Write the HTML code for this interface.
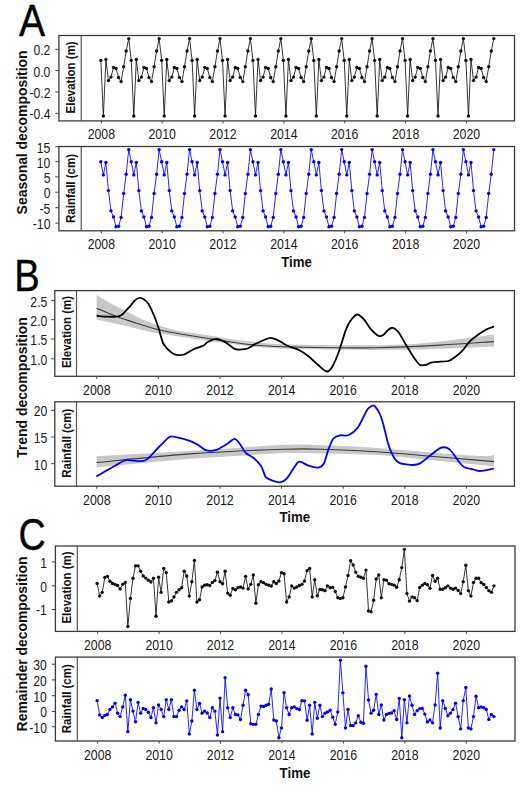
<!DOCTYPE html>
<html><head><meta charset="utf-8"><style>
html,body{margin:0;padding:0;background:#fff;}
body{width:526px;height:791px;overflow:hidden;}
svg{display:block;}
</style></head><body>
<svg width="526" height="791" viewBox="0 0 526 791" font-family='"Liberation Sans", sans-serif'>
<rect width="526" height="791" fill="#fff"/>
<text x="19" y="36" font-size="43.5" fill="#000" stroke="#000" stroke-width="0.35" transform="translate(19,0) scale(0.9,1) translate(-19,0)">A</text>
<text x="14.3" y="291" font-size="44.5" fill="#000" stroke="#000" stroke-width="0.3" transform="translate(14.3,0) scale(0.86,1) translate(-14.3,0)">B</text>
<text x="18.6" y="550" font-size="44.5" fill="#000" stroke="#000" stroke-width="0.35" transform="translate(18.6,0) scale(0.85,1) translate(-18.6,0)">C</text>
<rect x="58.9" y="35.5" width="455.6" height="85.4" fill="none" stroke="#3a3a3a" stroke-width="1.3"/>
<line x1="81.2" y1="35.5" x2="81.2" y2="120.9" stroke="#555" stroke-width="1.2"/>
<line x1="55.3" y1="49.3" x2="58.9" y2="49.3" stroke="#444" stroke-width="1"/>
<text transform="translate(50.4,55.2) scale(0.87,1)" text-anchor="end" font-size="14" fill="#1a1a1a">0.2</text>
<line x1="55.3" y1="70.6" x2="58.9" y2="70.6" stroke="#444" stroke-width="1"/>
<text transform="translate(50.4,76.5) scale(0.87,1)" text-anchor="end" font-size="14" fill="#1a1a1a">0.0</text>
<line x1="55.3" y1="92" x2="58.9" y2="92" stroke="#444" stroke-width="1"/>
<text transform="translate(50.4,97.9) scale(0.87,1)" text-anchor="end" font-size="14" fill="#1a1a1a">-0.2</text>
<line x1="55.3" y1="113.3" x2="58.9" y2="113.3" stroke="#444" stroke-width="1"/>
<text transform="translate(50.4,119.2) scale(0.87,1)" text-anchor="end" font-size="14" fill="#1a1a1a">-0.4</text>
<text transform="translate(74.7,77.4) rotate(-90) scale(0.885,1)" text-anchor="middle" font-size="13" font-weight="bold" fill="#111">Elevation (m)</text>
<line x1="101.33" y1="120.9" x2="101.33" y2="123.4" stroke="#444" stroke-width="1"/>
<text transform="translate(101.33,139.4) scale(0.88,1)" text-anchor="middle" font-size="14" fill="#1a1a1a">2008</text>
<line x1="162.18" y1="120.9" x2="162.18" y2="123.4" stroke="#444" stroke-width="1"/>
<text transform="translate(162.18,139.4) scale(0.88,1)" text-anchor="middle" font-size="14" fill="#1a1a1a">2010</text>
<line x1="223.03" y1="120.9" x2="223.03" y2="123.4" stroke="#444" stroke-width="1"/>
<text transform="translate(223.03,139.4) scale(0.88,1)" text-anchor="middle" font-size="14" fill="#1a1a1a">2012</text>
<line x1="283.87" y1="120.9" x2="283.87" y2="123.4" stroke="#444" stroke-width="1"/>
<text transform="translate(283.87,139.4) scale(0.88,1)" text-anchor="middle" font-size="14" fill="#1a1a1a">2014</text>
<line x1="344.72" y1="120.9" x2="344.72" y2="123.4" stroke="#444" stroke-width="1"/>
<text transform="translate(344.72,139.4) scale(0.88,1)" text-anchor="middle" font-size="14" fill="#1a1a1a">2016</text>
<line x1="405.57" y1="120.9" x2="405.57" y2="123.4" stroke="#444" stroke-width="1"/>
<text transform="translate(405.57,139.4) scale(0.88,1)" text-anchor="middle" font-size="14" fill="#1a1a1a">2018</text>
<line x1="466.42" y1="120.9" x2="466.42" y2="123.4" stroke="#444" stroke-width="1"/>
<text transform="translate(466.42,139.4) scale(0.88,1)" text-anchor="middle" font-size="14" fill="#1a1a1a">2020</text>
<polyline points="100.83,60.4 103.37,116 105.9,59.5 108.44,80.6 110.97,77.1 113.51,67.5 116.04,68.5 118.58,77.5 121.11,81.6 123.65,66.8 126.18,51 128.72,38.6 131.25,60.4 133.79,116 136.32,59.5 138.86,80.6 141.4,77.1 143.93,67.5 146.47,68.5 149,77.5 151.54,81.6 154.07,66.8 156.61,51 159.14,38.6 161.68,60.4 164.21,116 166.75,59.5 169.28,80.6 171.82,77.1 174.35,67.5 176.89,68.5 179.43,77.5 181.96,81.6 184.5,66.8 187.03,51 189.57,38.6 192.1,60.4 194.64,116 197.17,59.5 199.71,80.6 202.24,77.1 204.78,67.5 207.31,68.5 209.85,77.5 212.38,81.6 214.92,66.8 217.46,51 219.99,38.6 222.53,60.4 225.06,116 227.6,59.5 230.13,80.6 232.67,77.1 235.2,67.5 237.74,68.5 240.27,77.5 242.81,81.6 245.34,66.8 247.88,51 250.41,38.6 252.95,60.4 255.49,116 258.02,59.5 260.56,80.6 263.09,77.1 265.63,67.5 268.16,68.5 270.7,77.5 273.23,81.6 275.77,66.8 278.3,51 280.84,38.6 283.37,60.4 285.91,116 288.44,59.5 290.98,80.6 293.52,77.1 296.05,67.5 298.59,68.5 301.12,77.5 303.66,81.6 306.19,66.8 308.73,51 311.26,38.6 313.8,60.4 316.33,116 318.87,59.5 321.4,80.6 323.94,77.1 326.47,67.5 329.01,68.5 331.55,77.5 334.08,81.6 336.62,66.8 339.15,51 341.69,38.6 344.22,60.4 346.76,116 349.29,59.5 351.83,80.6 354.36,77.1 356.9,67.5 359.43,68.5 361.97,77.5 364.5,81.6 367.04,66.8 369.58,51 372.11,38.6 374.65,60.4 377.18,116 379.72,59.5 382.25,80.6 384.79,77.1 387.32,67.5 389.86,68.5 392.39,77.5 394.93,81.6 397.46,66.8 400,51 402.53,38.6 405.07,60.4 407.61,116 410.14,59.5 412.68,80.6 415.21,77.1 417.75,67.5 420.28,68.5 422.82,77.5 425.35,81.6 427.89,66.8 430.42,51 432.96,38.6 435.49,60.4 438.03,116 440.56,59.5 443.1,80.6 445.64,77.1 448.17,67.5 450.71,68.5 453.24,77.5 455.78,81.6 458.31,66.8 460.85,51 463.38,38.6 465.92,60.4 468.45,116 470.99,59.5 473.52,80.6 476.06,77.1 478.59,67.5 481.13,68.5 483.67,77.5 486.2,81.6 488.74,66.8 491.27,51 493.81,38.6" fill="none" stroke="#111" stroke-width="0.85" stroke-linejoin="round"/>
<circle cx="100.83" cy="60.4" r="1.7" fill="#111"/>
<circle cx="103.37" cy="116" r="1.7" fill="#111"/>
<circle cx="105.9" cy="59.5" r="1.7" fill="#111"/>
<circle cx="108.44" cy="80.6" r="1.7" fill="#111"/>
<circle cx="110.97" cy="77.1" r="1.7" fill="#111"/>
<circle cx="113.51" cy="67.5" r="1.7" fill="#111"/>
<circle cx="116.04" cy="68.5" r="1.7" fill="#111"/>
<circle cx="118.58" cy="77.5" r="1.7" fill="#111"/>
<circle cx="121.11" cy="81.6" r="1.7" fill="#111"/>
<circle cx="123.65" cy="66.8" r="1.7" fill="#111"/>
<circle cx="126.18" cy="51" r="1.7" fill="#111"/>
<circle cx="128.72" cy="38.6" r="1.7" fill="#111"/>
<circle cx="131.25" cy="60.4" r="1.7" fill="#111"/>
<circle cx="133.79" cy="116" r="1.7" fill="#111"/>
<circle cx="136.32" cy="59.5" r="1.7" fill="#111"/>
<circle cx="138.86" cy="80.6" r="1.7" fill="#111"/>
<circle cx="141.4" cy="77.1" r="1.7" fill="#111"/>
<circle cx="143.93" cy="67.5" r="1.7" fill="#111"/>
<circle cx="146.47" cy="68.5" r="1.7" fill="#111"/>
<circle cx="149" cy="77.5" r="1.7" fill="#111"/>
<circle cx="151.54" cy="81.6" r="1.7" fill="#111"/>
<circle cx="154.07" cy="66.8" r="1.7" fill="#111"/>
<circle cx="156.61" cy="51" r="1.7" fill="#111"/>
<circle cx="159.14" cy="38.6" r="1.7" fill="#111"/>
<circle cx="161.68" cy="60.4" r="1.7" fill="#111"/>
<circle cx="164.21" cy="116" r="1.7" fill="#111"/>
<circle cx="166.75" cy="59.5" r="1.7" fill="#111"/>
<circle cx="169.28" cy="80.6" r="1.7" fill="#111"/>
<circle cx="171.82" cy="77.1" r="1.7" fill="#111"/>
<circle cx="174.35" cy="67.5" r="1.7" fill="#111"/>
<circle cx="176.89" cy="68.5" r="1.7" fill="#111"/>
<circle cx="179.43" cy="77.5" r="1.7" fill="#111"/>
<circle cx="181.96" cy="81.6" r="1.7" fill="#111"/>
<circle cx="184.5" cy="66.8" r="1.7" fill="#111"/>
<circle cx="187.03" cy="51" r="1.7" fill="#111"/>
<circle cx="189.57" cy="38.6" r="1.7" fill="#111"/>
<circle cx="192.1" cy="60.4" r="1.7" fill="#111"/>
<circle cx="194.64" cy="116" r="1.7" fill="#111"/>
<circle cx="197.17" cy="59.5" r="1.7" fill="#111"/>
<circle cx="199.71" cy="80.6" r="1.7" fill="#111"/>
<circle cx="202.24" cy="77.1" r="1.7" fill="#111"/>
<circle cx="204.78" cy="67.5" r="1.7" fill="#111"/>
<circle cx="207.31" cy="68.5" r="1.7" fill="#111"/>
<circle cx="209.85" cy="77.5" r="1.7" fill="#111"/>
<circle cx="212.38" cy="81.6" r="1.7" fill="#111"/>
<circle cx="214.92" cy="66.8" r="1.7" fill="#111"/>
<circle cx="217.46" cy="51" r="1.7" fill="#111"/>
<circle cx="219.99" cy="38.6" r="1.7" fill="#111"/>
<circle cx="222.53" cy="60.4" r="1.7" fill="#111"/>
<circle cx="225.06" cy="116" r="1.7" fill="#111"/>
<circle cx="227.6" cy="59.5" r="1.7" fill="#111"/>
<circle cx="230.13" cy="80.6" r="1.7" fill="#111"/>
<circle cx="232.67" cy="77.1" r="1.7" fill="#111"/>
<circle cx="235.2" cy="67.5" r="1.7" fill="#111"/>
<circle cx="237.74" cy="68.5" r="1.7" fill="#111"/>
<circle cx="240.27" cy="77.5" r="1.7" fill="#111"/>
<circle cx="242.81" cy="81.6" r="1.7" fill="#111"/>
<circle cx="245.34" cy="66.8" r="1.7" fill="#111"/>
<circle cx="247.88" cy="51" r="1.7" fill="#111"/>
<circle cx="250.41" cy="38.6" r="1.7" fill="#111"/>
<circle cx="252.95" cy="60.4" r="1.7" fill="#111"/>
<circle cx="255.49" cy="116" r="1.7" fill="#111"/>
<circle cx="258.02" cy="59.5" r="1.7" fill="#111"/>
<circle cx="260.56" cy="80.6" r="1.7" fill="#111"/>
<circle cx="263.09" cy="77.1" r="1.7" fill="#111"/>
<circle cx="265.63" cy="67.5" r="1.7" fill="#111"/>
<circle cx="268.16" cy="68.5" r="1.7" fill="#111"/>
<circle cx="270.7" cy="77.5" r="1.7" fill="#111"/>
<circle cx="273.23" cy="81.6" r="1.7" fill="#111"/>
<circle cx="275.77" cy="66.8" r="1.7" fill="#111"/>
<circle cx="278.3" cy="51" r="1.7" fill="#111"/>
<circle cx="280.84" cy="38.6" r="1.7" fill="#111"/>
<circle cx="283.37" cy="60.4" r="1.7" fill="#111"/>
<circle cx="285.91" cy="116" r="1.7" fill="#111"/>
<circle cx="288.44" cy="59.5" r="1.7" fill="#111"/>
<circle cx="290.98" cy="80.6" r="1.7" fill="#111"/>
<circle cx="293.52" cy="77.1" r="1.7" fill="#111"/>
<circle cx="296.05" cy="67.5" r="1.7" fill="#111"/>
<circle cx="298.59" cy="68.5" r="1.7" fill="#111"/>
<circle cx="301.12" cy="77.5" r="1.7" fill="#111"/>
<circle cx="303.66" cy="81.6" r="1.7" fill="#111"/>
<circle cx="306.19" cy="66.8" r="1.7" fill="#111"/>
<circle cx="308.73" cy="51" r="1.7" fill="#111"/>
<circle cx="311.26" cy="38.6" r="1.7" fill="#111"/>
<circle cx="313.8" cy="60.4" r="1.7" fill="#111"/>
<circle cx="316.33" cy="116" r="1.7" fill="#111"/>
<circle cx="318.87" cy="59.5" r="1.7" fill="#111"/>
<circle cx="321.4" cy="80.6" r="1.7" fill="#111"/>
<circle cx="323.94" cy="77.1" r="1.7" fill="#111"/>
<circle cx="326.47" cy="67.5" r="1.7" fill="#111"/>
<circle cx="329.01" cy="68.5" r="1.7" fill="#111"/>
<circle cx="331.55" cy="77.5" r="1.7" fill="#111"/>
<circle cx="334.08" cy="81.6" r="1.7" fill="#111"/>
<circle cx="336.62" cy="66.8" r="1.7" fill="#111"/>
<circle cx="339.15" cy="51" r="1.7" fill="#111"/>
<circle cx="341.69" cy="38.6" r="1.7" fill="#111"/>
<circle cx="344.22" cy="60.4" r="1.7" fill="#111"/>
<circle cx="346.76" cy="116" r="1.7" fill="#111"/>
<circle cx="349.29" cy="59.5" r="1.7" fill="#111"/>
<circle cx="351.83" cy="80.6" r="1.7" fill="#111"/>
<circle cx="354.36" cy="77.1" r="1.7" fill="#111"/>
<circle cx="356.9" cy="67.5" r="1.7" fill="#111"/>
<circle cx="359.43" cy="68.5" r="1.7" fill="#111"/>
<circle cx="361.97" cy="77.5" r="1.7" fill="#111"/>
<circle cx="364.5" cy="81.6" r="1.7" fill="#111"/>
<circle cx="367.04" cy="66.8" r="1.7" fill="#111"/>
<circle cx="369.58" cy="51" r="1.7" fill="#111"/>
<circle cx="372.11" cy="38.6" r="1.7" fill="#111"/>
<circle cx="374.65" cy="60.4" r="1.7" fill="#111"/>
<circle cx="377.18" cy="116" r="1.7" fill="#111"/>
<circle cx="379.72" cy="59.5" r="1.7" fill="#111"/>
<circle cx="382.25" cy="80.6" r="1.7" fill="#111"/>
<circle cx="384.79" cy="77.1" r="1.7" fill="#111"/>
<circle cx="387.32" cy="67.5" r="1.7" fill="#111"/>
<circle cx="389.86" cy="68.5" r="1.7" fill="#111"/>
<circle cx="392.39" cy="77.5" r="1.7" fill="#111"/>
<circle cx="394.93" cy="81.6" r="1.7" fill="#111"/>
<circle cx="397.46" cy="66.8" r="1.7" fill="#111"/>
<circle cx="400" cy="51" r="1.7" fill="#111"/>
<circle cx="402.53" cy="38.6" r="1.7" fill="#111"/>
<circle cx="405.07" cy="60.4" r="1.7" fill="#111"/>
<circle cx="407.61" cy="116" r="1.7" fill="#111"/>
<circle cx="410.14" cy="59.5" r="1.7" fill="#111"/>
<circle cx="412.68" cy="80.6" r="1.7" fill="#111"/>
<circle cx="415.21" cy="77.1" r="1.7" fill="#111"/>
<circle cx="417.75" cy="67.5" r="1.7" fill="#111"/>
<circle cx="420.28" cy="68.5" r="1.7" fill="#111"/>
<circle cx="422.82" cy="77.5" r="1.7" fill="#111"/>
<circle cx="425.35" cy="81.6" r="1.7" fill="#111"/>
<circle cx="427.89" cy="66.8" r="1.7" fill="#111"/>
<circle cx="430.42" cy="51" r="1.7" fill="#111"/>
<circle cx="432.96" cy="38.6" r="1.7" fill="#111"/>
<circle cx="435.49" cy="60.4" r="1.7" fill="#111"/>
<circle cx="438.03" cy="116" r="1.7" fill="#111"/>
<circle cx="440.56" cy="59.5" r="1.7" fill="#111"/>
<circle cx="443.1" cy="80.6" r="1.7" fill="#111"/>
<circle cx="445.64" cy="77.1" r="1.7" fill="#111"/>
<circle cx="448.17" cy="67.5" r="1.7" fill="#111"/>
<circle cx="450.71" cy="68.5" r="1.7" fill="#111"/>
<circle cx="453.24" cy="77.5" r="1.7" fill="#111"/>
<circle cx="455.78" cy="81.6" r="1.7" fill="#111"/>
<circle cx="458.31" cy="66.8" r="1.7" fill="#111"/>
<circle cx="460.85" cy="51" r="1.7" fill="#111"/>
<circle cx="463.38" cy="38.6" r="1.7" fill="#111"/>
<circle cx="465.92" cy="60.4" r="1.7" fill="#111"/>
<circle cx="468.45" cy="116" r="1.7" fill="#111"/>
<circle cx="470.99" cy="59.5" r="1.7" fill="#111"/>
<circle cx="473.52" cy="80.6" r="1.7" fill="#111"/>
<circle cx="476.06" cy="77.1" r="1.7" fill="#111"/>
<circle cx="478.59" cy="67.5" r="1.7" fill="#111"/>
<circle cx="481.13" cy="68.5" r="1.7" fill="#111"/>
<circle cx="483.67" cy="77.5" r="1.7" fill="#111"/>
<circle cx="486.2" cy="81.6" r="1.7" fill="#111"/>
<circle cx="488.74" cy="66.8" r="1.7" fill="#111"/>
<circle cx="491.27" cy="51" r="1.7" fill="#111"/>
<circle cx="493.81" cy="38.6" r="1.7" fill="#111"/>
<rect x="58.9" y="146.5" width="455.6" height="84.3" fill="none" stroke="#3a3a3a" stroke-width="1.3"/>
<line x1="81.2" y1="146.5" x2="81.2" y2="230.8" stroke="#555" stroke-width="1.2"/>
<line x1="55.3" y1="146.7" x2="58.9" y2="146.7" stroke="#444" stroke-width="1"/>
<text transform="translate(50.4,152.6) scale(0.87,1)" text-anchor="end" font-size="14" fill="#1a1a1a">15</text>
<line x1="55.3" y1="161.6" x2="58.9" y2="161.6" stroke="#444" stroke-width="1"/>
<text transform="translate(50.4,167.5) scale(0.87,1)" text-anchor="end" font-size="14" fill="#1a1a1a">10</text>
<line x1="55.3" y1="176.9" x2="58.9" y2="176.9" stroke="#444" stroke-width="1"/>
<text transform="translate(50.4,182.8) scale(0.87,1)" text-anchor="end" font-size="14" fill="#1a1a1a">5</text>
<line x1="55.3" y1="192.2" x2="58.9" y2="192.2" stroke="#444" stroke-width="1"/>
<text transform="translate(50.4,198.1) scale(0.87,1)" text-anchor="end" font-size="14" fill="#1a1a1a">0</text>
<line x1="55.3" y1="207.7" x2="58.9" y2="207.7" stroke="#444" stroke-width="1"/>
<text transform="translate(50.4,213.6) scale(0.87,1)" text-anchor="end" font-size="14" fill="#1a1a1a">-5</text>
<line x1="55.3" y1="223.2" x2="58.9" y2="223.2" stroke="#444" stroke-width="1"/>
<text transform="translate(50.4,229.1) scale(0.87,1)" text-anchor="end" font-size="14" fill="#1a1a1a">-10</text>
<text transform="translate(74.7,188.5) rotate(-90) scale(0.885,1)" text-anchor="middle" font-size="13" font-weight="bold" fill="#111">Rainfall (cm)</text>
<line x1="101.33" y1="230.8" x2="101.33" y2="233.3" stroke="#444" stroke-width="1"/>
<text transform="translate(101.33,249.3) scale(0.88,1)" text-anchor="middle" font-size="14" fill="#1a1a1a">2008</text>
<line x1="162.18" y1="230.8" x2="162.18" y2="233.3" stroke="#444" stroke-width="1"/>
<text transform="translate(162.18,249.3) scale(0.88,1)" text-anchor="middle" font-size="14" fill="#1a1a1a">2010</text>
<line x1="223.03" y1="230.8" x2="223.03" y2="233.3" stroke="#444" stroke-width="1"/>
<text transform="translate(223.03,249.3) scale(0.88,1)" text-anchor="middle" font-size="14" fill="#1a1a1a">2012</text>
<line x1="283.87" y1="230.8" x2="283.87" y2="233.3" stroke="#444" stroke-width="1"/>
<text transform="translate(283.87,249.3) scale(0.88,1)" text-anchor="middle" font-size="14" fill="#1a1a1a">2014</text>
<line x1="344.72" y1="230.8" x2="344.72" y2="233.3" stroke="#444" stroke-width="1"/>
<text transform="translate(344.72,249.3) scale(0.88,1)" text-anchor="middle" font-size="14" fill="#1a1a1a">2016</text>
<line x1="405.57" y1="230.8" x2="405.57" y2="233.3" stroke="#444" stroke-width="1"/>
<text transform="translate(405.57,249.3) scale(0.88,1)" text-anchor="middle" font-size="14" fill="#1a1a1a">2018</text>
<line x1="466.42" y1="230.8" x2="466.42" y2="233.3" stroke="#444" stroke-width="1"/>
<text transform="translate(466.42,249.3) scale(0.88,1)" text-anchor="middle" font-size="14" fill="#1a1a1a">2020</text>
<polyline points="100.83,161.8 103.37,174.9 105.9,162.5 108.44,190.6 110.97,210.9 113.51,217 116.04,226.7 118.58,226.3 121.11,217.4 123.65,193.5 126.18,174.2 128.72,149.6 131.25,161.8 133.79,174.9 136.32,162.5 138.86,190.6 141.4,210.9 143.93,217 146.47,226.7 149,226.3 151.54,217.4 154.07,193.5 156.61,174.2 159.14,149.6 161.68,161.8 164.21,174.9 166.75,162.5 169.28,190.6 171.82,210.9 174.35,217 176.89,226.7 179.43,226.3 181.96,217.4 184.5,193.5 187.03,174.2 189.57,149.6 192.1,161.8 194.64,174.9 197.17,162.5 199.71,190.6 202.24,210.9 204.78,217 207.31,226.7 209.85,226.3 212.38,217.4 214.92,193.5 217.46,174.2 219.99,149.6 222.53,161.8 225.06,174.9 227.6,162.5 230.13,190.6 232.67,210.9 235.2,217 237.74,226.7 240.27,226.3 242.81,217.4 245.34,193.5 247.88,174.2 250.41,149.6 252.95,161.8 255.49,174.9 258.02,162.5 260.56,190.6 263.09,210.9 265.63,217 268.16,226.7 270.7,226.3 273.23,217.4 275.77,193.5 278.3,174.2 280.84,149.6 283.37,161.8 285.91,174.9 288.44,162.5 290.98,190.6 293.52,210.9 296.05,217 298.59,226.7 301.12,226.3 303.66,217.4 306.19,193.5 308.73,174.2 311.26,149.6 313.8,161.8 316.33,174.9 318.87,162.5 321.4,190.6 323.94,210.9 326.47,217 329.01,226.7 331.55,226.3 334.08,217.4 336.62,193.5 339.15,174.2 341.69,149.6 344.22,161.8 346.76,174.9 349.29,162.5 351.83,190.6 354.36,210.9 356.9,217 359.43,226.7 361.97,226.3 364.5,217.4 367.04,193.5 369.58,174.2 372.11,149.6 374.65,161.8 377.18,174.9 379.72,162.5 382.25,190.6 384.79,210.9 387.32,217 389.86,226.7 392.39,226.3 394.93,217.4 397.46,193.5 400,174.2 402.53,149.6 405.07,161.8 407.61,174.9 410.14,162.5 412.68,190.6 415.21,210.9 417.75,217 420.28,226.7 422.82,226.3 425.35,217.4 427.89,193.5 430.42,174.2 432.96,149.6 435.49,161.8 438.03,174.9 440.56,162.5 443.1,190.6 445.64,210.9 448.17,217 450.71,226.7 453.24,226.3 455.78,217.4 458.31,193.5 460.85,174.2 463.38,149.6 465.92,161.8 468.45,174.9 470.99,162.5 473.52,190.6 476.06,210.9 478.59,217 481.13,226.7 483.67,226.3 486.2,217.4 488.74,193.5 491.27,174.2 493.81,149.6" fill="none" stroke="#0000ff" stroke-width="0.85" stroke-linejoin="round"/>
<circle cx="100.83" cy="161.8" r="1.7" fill="#0000ff"/>
<circle cx="103.37" cy="174.9" r="1.7" fill="#0000ff"/>
<circle cx="105.9" cy="162.5" r="1.7" fill="#0000ff"/>
<circle cx="108.44" cy="190.6" r="1.7" fill="#0000ff"/>
<circle cx="110.97" cy="210.9" r="1.7" fill="#0000ff"/>
<circle cx="113.51" cy="217" r="1.7" fill="#0000ff"/>
<circle cx="116.04" cy="226.7" r="1.7" fill="#0000ff"/>
<circle cx="118.58" cy="226.3" r="1.7" fill="#0000ff"/>
<circle cx="121.11" cy="217.4" r="1.7" fill="#0000ff"/>
<circle cx="123.65" cy="193.5" r="1.7" fill="#0000ff"/>
<circle cx="126.18" cy="174.2" r="1.7" fill="#0000ff"/>
<circle cx="128.72" cy="149.6" r="1.7" fill="#0000ff"/>
<circle cx="131.25" cy="161.8" r="1.7" fill="#0000ff"/>
<circle cx="133.79" cy="174.9" r="1.7" fill="#0000ff"/>
<circle cx="136.32" cy="162.5" r="1.7" fill="#0000ff"/>
<circle cx="138.86" cy="190.6" r="1.7" fill="#0000ff"/>
<circle cx="141.4" cy="210.9" r="1.7" fill="#0000ff"/>
<circle cx="143.93" cy="217" r="1.7" fill="#0000ff"/>
<circle cx="146.47" cy="226.7" r="1.7" fill="#0000ff"/>
<circle cx="149" cy="226.3" r="1.7" fill="#0000ff"/>
<circle cx="151.54" cy="217.4" r="1.7" fill="#0000ff"/>
<circle cx="154.07" cy="193.5" r="1.7" fill="#0000ff"/>
<circle cx="156.61" cy="174.2" r="1.7" fill="#0000ff"/>
<circle cx="159.14" cy="149.6" r="1.7" fill="#0000ff"/>
<circle cx="161.68" cy="161.8" r="1.7" fill="#0000ff"/>
<circle cx="164.21" cy="174.9" r="1.7" fill="#0000ff"/>
<circle cx="166.75" cy="162.5" r="1.7" fill="#0000ff"/>
<circle cx="169.28" cy="190.6" r="1.7" fill="#0000ff"/>
<circle cx="171.82" cy="210.9" r="1.7" fill="#0000ff"/>
<circle cx="174.35" cy="217" r="1.7" fill="#0000ff"/>
<circle cx="176.89" cy="226.7" r="1.7" fill="#0000ff"/>
<circle cx="179.43" cy="226.3" r="1.7" fill="#0000ff"/>
<circle cx="181.96" cy="217.4" r="1.7" fill="#0000ff"/>
<circle cx="184.5" cy="193.5" r="1.7" fill="#0000ff"/>
<circle cx="187.03" cy="174.2" r="1.7" fill="#0000ff"/>
<circle cx="189.57" cy="149.6" r="1.7" fill="#0000ff"/>
<circle cx="192.1" cy="161.8" r="1.7" fill="#0000ff"/>
<circle cx="194.64" cy="174.9" r="1.7" fill="#0000ff"/>
<circle cx="197.17" cy="162.5" r="1.7" fill="#0000ff"/>
<circle cx="199.71" cy="190.6" r="1.7" fill="#0000ff"/>
<circle cx="202.24" cy="210.9" r="1.7" fill="#0000ff"/>
<circle cx="204.78" cy="217" r="1.7" fill="#0000ff"/>
<circle cx="207.31" cy="226.7" r="1.7" fill="#0000ff"/>
<circle cx="209.85" cy="226.3" r="1.7" fill="#0000ff"/>
<circle cx="212.38" cy="217.4" r="1.7" fill="#0000ff"/>
<circle cx="214.92" cy="193.5" r="1.7" fill="#0000ff"/>
<circle cx="217.46" cy="174.2" r="1.7" fill="#0000ff"/>
<circle cx="219.99" cy="149.6" r="1.7" fill="#0000ff"/>
<circle cx="222.53" cy="161.8" r="1.7" fill="#0000ff"/>
<circle cx="225.06" cy="174.9" r="1.7" fill="#0000ff"/>
<circle cx="227.6" cy="162.5" r="1.7" fill="#0000ff"/>
<circle cx="230.13" cy="190.6" r="1.7" fill="#0000ff"/>
<circle cx="232.67" cy="210.9" r="1.7" fill="#0000ff"/>
<circle cx="235.2" cy="217" r="1.7" fill="#0000ff"/>
<circle cx="237.74" cy="226.7" r="1.7" fill="#0000ff"/>
<circle cx="240.27" cy="226.3" r="1.7" fill="#0000ff"/>
<circle cx="242.81" cy="217.4" r="1.7" fill="#0000ff"/>
<circle cx="245.34" cy="193.5" r="1.7" fill="#0000ff"/>
<circle cx="247.88" cy="174.2" r="1.7" fill="#0000ff"/>
<circle cx="250.41" cy="149.6" r="1.7" fill="#0000ff"/>
<circle cx="252.95" cy="161.8" r="1.7" fill="#0000ff"/>
<circle cx="255.49" cy="174.9" r="1.7" fill="#0000ff"/>
<circle cx="258.02" cy="162.5" r="1.7" fill="#0000ff"/>
<circle cx="260.56" cy="190.6" r="1.7" fill="#0000ff"/>
<circle cx="263.09" cy="210.9" r="1.7" fill="#0000ff"/>
<circle cx="265.63" cy="217" r="1.7" fill="#0000ff"/>
<circle cx="268.16" cy="226.7" r="1.7" fill="#0000ff"/>
<circle cx="270.7" cy="226.3" r="1.7" fill="#0000ff"/>
<circle cx="273.23" cy="217.4" r="1.7" fill="#0000ff"/>
<circle cx="275.77" cy="193.5" r="1.7" fill="#0000ff"/>
<circle cx="278.3" cy="174.2" r="1.7" fill="#0000ff"/>
<circle cx="280.84" cy="149.6" r="1.7" fill="#0000ff"/>
<circle cx="283.37" cy="161.8" r="1.7" fill="#0000ff"/>
<circle cx="285.91" cy="174.9" r="1.7" fill="#0000ff"/>
<circle cx="288.44" cy="162.5" r="1.7" fill="#0000ff"/>
<circle cx="290.98" cy="190.6" r="1.7" fill="#0000ff"/>
<circle cx="293.52" cy="210.9" r="1.7" fill="#0000ff"/>
<circle cx="296.05" cy="217" r="1.7" fill="#0000ff"/>
<circle cx="298.59" cy="226.7" r="1.7" fill="#0000ff"/>
<circle cx="301.12" cy="226.3" r="1.7" fill="#0000ff"/>
<circle cx="303.66" cy="217.4" r="1.7" fill="#0000ff"/>
<circle cx="306.19" cy="193.5" r="1.7" fill="#0000ff"/>
<circle cx="308.73" cy="174.2" r="1.7" fill="#0000ff"/>
<circle cx="311.26" cy="149.6" r="1.7" fill="#0000ff"/>
<circle cx="313.8" cy="161.8" r="1.7" fill="#0000ff"/>
<circle cx="316.33" cy="174.9" r="1.7" fill="#0000ff"/>
<circle cx="318.87" cy="162.5" r="1.7" fill="#0000ff"/>
<circle cx="321.4" cy="190.6" r="1.7" fill="#0000ff"/>
<circle cx="323.94" cy="210.9" r="1.7" fill="#0000ff"/>
<circle cx="326.47" cy="217" r="1.7" fill="#0000ff"/>
<circle cx="329.01" cy="226.7" r="1.7" fill="#0000ff"/>
<circle cx="331.55" cy="226.3" r="1.7" fill="#0000ff"/>
<circle cx="334.08" cy="217.4" r="1.7" fill="#0000ff"/>
<circle cx="336.62" cy="193.5" r="1.7" fill="#0000ff"/>
<circle cx="339.15" cy="174.2" r="1.7" fill="#0000ff"/>
<circle cx="341.69" cy="149.6" r="1.7" fill="#0000ff"/>
<circle cx="344.22" cy="161.8" r="1.7" fill="#0000ff"/>
<circle cx="346.76" cy="174.9" r="1.7" fill="#0000ff"/>
<circle cx="349.29" cy="162.5" r="1.7" fill="#0000ff"/>
<circle cx="351.83" cy="190.6" r="1.7" fill="#0000ff"/>
<circle cx="354.36" cy="210.9" r="1.7" fill="#0000ff"/>
<circle cx="356.9" cy="217" r="1.7" fill="#0000ff"/>
<circle cx="359.43" cy="226.7" r="1.7" fill="#0000ff"/>
<circle cx="361.97" cy="226.3" r="1.7" fill="#0000ff"/>
<circle cx="364.5" cy="217.4" r="1.7" fill="#0000ff"/>
<circle cx="367.04" cy="193.5" r="1.7" fill="#0000ff"/>
<circle cx="369.58" cy="174.2" r="1.7" fill="#0000ff"/>
<circle cx="372.11" cy="149.6" r="1.7" fill="#0000ff"/>
<circle cx="374.65" cy="161.8" r="1.7" fill="#0000ff"/>
<circle cx="377.18" cy="174.9" r="1.7" fill="#0000ff"/>
<circle cx="379.72" cy="162.5" r="1.7" fill="#0000ff"/>
<circle cx="382.25" cy="190.6" r="1.7" fill="#0000ff"/>
<circle cx="384.79" cy="210.9" r="1.7" fill="#0000ff"/>
<circle cx="387.32" cy="217" r="1.7" fill="#0000ff"/>
<circle cx="389.86" cy="226.7" r="1.7" fill="#0000ff"/>
<circle cx="392.39" cy="226.3" r="1.7" fill="#0000ff"/>
<circle cx="394.93" cy="217.4" r="1.7" fill="#0000ff"/>
<circle cx="397.46" cy="193.5" r="1.7" fill="#0000ff"/>
<circle cx="400" cy="174.2" r="1.7" fill="#0000ff"/>
<circle cx="402.53" cy="149.6" r="1.7" fill="#0000ff"/>
<circle cx="405.07" cy="161.8" r="1.7" fill="#0000ff"/>
<circle cx="407.61" cy="174.9" r="1.7" fill="#0000ff"/>
<circle cx="410.14" cy="162.5" r="1.7" fill="#0000ff"/>
<circle cx="412.68" cy="190.6" r="1.7" fill="#0000ff"/>
<circle cx="415.21" cy="210.9" r="1.7" fill="#0000ff"/>
<circle cx="417.75" cy="217" r="1.7" fill="#0000ff"/>
<circle cx="420.28" cy="226.7" r="1.7" fill="#0000ff"/>
<circle cx="422.82" cy="226.3" r="1.7" fill="#0000ff"/>
<circle cx="425.35" cy="217.4" r="1.7" fill="#0000ff"/>
<circle cx="427.89" cy="193.5" r="1.7" fill="#0000ff"/>
<circle cx="430.42" cy="174.2" r="1.7" fill="#0000ff"/>
<circle cx="432.96" cy="149.6" r="1.7" fill="#0000ff"/>
<circle cx="435.49" cy="161.8" r="1.7" fill="#0000ff"/>
<circle cx="438.03" cy="174.9" r="1.7" fill="#0000ff"/>
<circle cx="440.56" cy="162.5" r="1.7" fill="#0000ff"/>
<circle cx="443.1" cy="190.6" r="1.7" fill="#0000ff"/>
<circle cx="445.64" cy="210.9" r="1.7" fill="#0000ff"/>
<circle cx="448.17" cy="217" r="1.7" fill="#0000ff"/>
<circle cx="450.71" cy="226.7" r="1.7" fill="#0000ff"/>
<circle cx="453.24" cy="226.3" r="1.7" fill="#0000ff"/>
<circle cx="455.78" cy="217.4" r="1.7" fill="#0000ff"/>
<circle cx="458.31" cy="193.5" r="1.7" fill="#0000ff"/>
<circle cx="460.85" cy="174.2" r="1.7" fill="#0000ff"/>
<circle cx="463.38" cy="149.6" r="1.7" fill="#0000ff"/>
<circle cx="465.92" cy="161.8" r="1.7" fill="#0000ff"/>
<circle cx="468.45" cy="174.9" r="1.7" fill="#0000ff"/>
<circle cx="470.99" cy="162.5" r="1.7" fill="#0000ff"/>
<circle cx="473.52" cy="190.6" r="1.7" fill="#0000ff"/>
<circle cx="476.06" cy="210.9" r="1.7" fill="#0000ff"/>
<circle cx="478.59" cy="217" r="1.7" fill="#0000ff"/>
<circle cx="481.13" cy="226.7" r="1.7" fill="#0000ff"/>
<circle cx="483.67" cy="226.3" r="1.7" fill="#0000ff"/>
<circle cx="486.2" cy="217.4" r="1.7" fill="#0000ff"/>
<circle cx="488.74" cy="193.5" r="1.7" fill="#0000ff"/>
<circle cx="491.27" cy="174.2" r="1.7" fill="#0000ff"/>
<circle cx="493.81" cy="149.6" r="1.7" fill="#0000ff"/>
<text transform="translate(296.6,266.9) scale(0.86,1)" text-anchor="middle" font-size="15.5" font-weight="bold" fill="#111">Time</text>
<text transform="translate(27,132.4) rotate(-90) scale(0.928,1)" text-anchor="middle" font-size="15" font-weight="bold" fill="#111">Seasonal decomposition</text>
<rect x="54.8" y="290.6" width="459.6" height="85.7" fill="none" stroke="#3a3a3a" stroke-width="1.3"/>
<line x1="76.5" y1="290.6" x2="76.5" y2="376.3" stroke="#555" stroke-width="1.2"/>
<line x1="51.2" y1="300.6" x2="54.8" y2="300.6" stroke="#444" stroke-width="1"/>
<text transform="translate(47.3,306.5) scale(0.87,1)" text-anchor="end" font-size="14" fill="#1a1a1a">2.5</text>
<line x1="51.2" y1="319.7" x2="54.8" y2="319.7" stroke="#444" stroke-width="1"/>
<text transform="translate(47.3,325.6) scale(0.87,1)" text-anchor="end" font-size="14" fill="#1a1a1a">2.0</text>
<line x1="51.2" y1="339" x2="54.8" y2="339" stroke="#444" stroke-width="1"/>
<text transform="translate(47.3,344.9) scale(0.87,1)" text-anchor="end" font-size="14" fill="#1a1a1a">1.5</text>
<line x1="51.2" y1="358.8" x2="54.8" y2="358.8" stroke="#444" stroke-width="1"/>
<text transform="translate(47.3,364.7) scale(0.87,1)" text-anchor="end" font-size="14" fill="#1a1a1a">1.0</text>
<text transform="translate(70.5,332) rotate(-90) scale(0.885,1)" text-anchor="middle" font-size="13" font-weight="bold" fill="#111">Elevation (m)</text>
<line x1="96.8" y1="376.3" x2="96.8" y2="378.8" stroke="#444" stroke-width="1"/>
<text transform="translate(96.8,394.8) scale(0.88,1)" text-anchor="middle" font-size="14" fill="#1a1a1a">2008</text>
<line x1="158.4" y1="376.3" x2="158.4" y2="378.8" stroke="#444" stroke-width="1"/>
<text transform="translate(158.4,394.8) scale(0.88,1)" text-anchor="middle" font-size="14" fill="#1a1a1a">2010</text>
<line x1="220" y1="376.3" x2="220" y2="378.8" stroke="#444" stroke-width="1"/>
<text transform="translate(220,394.8) scale(0.88,1)" text-anchor="middle" font-size="14" fill="#1a1a1a">2012</text>
<line x1="281.6" y1="376.3" x2="281.6" y2="378.8" stroke="#444" stroke-width="1"/>
<text transform="translate(281.6,394.8) scale(0.88,1)" text-anchor="middle" font-size="14" fill="#1a1a1a">2014</text>
<line x1="343.2" y1="376.3" x2="343.2" y2="378.8" stroke="#444" stroke-width="1"/>
<text transform="translate(343.2,394.8) scale(0.88,1)" text-anchor="middle" font-size="14" fill="#1a1a1a">2016</text>
<line x1="404.8" y1="376.3" x2="404.8" y2="378.8" stroke="#444" stroke-width="1"/>
<text transform="translate(404.8,394.8) scale(0.88,1)" text-anchor="middle" font-size="14" fill="#1a1a1a">2018</text>
<line x1="466.4" y1="376.3" x2="466.4" y2="378.8" stroke="#444" stroke-width="1"/>
<text transform="translate(466.4,394.8) scale(0.88,1)" text-anchor="middle" font-size="14" fill="#1a1a1a">2020</text>
<path d="M96.6,295.1 C98.83,296.42 105.4,300.48 110,303 C114.6,305.52 117.53,306.93 124.2,310.2 C130.87,313.47 141.53,319.3 150,322.6 C158.47,325.9 166.77,328.1 175,330 C183.23,331.9 186.9,332.07 199.4,334 C211.9,335.93 235.73,339.88 250,341.6 C264.27,343.32 271.67,343.7 285,344.3 C298.33,344.9 315,345.05 330,345.2 C345,345.35 360,345.48 375,345.2 C390,344.92 405.83,344.53 420,343.5 C434.17,342.47 447.67,340.52 460,339 C472.33,337.48 488.33,335.17 494,334.4 L494,346.6 L460,348 L420,349.5 L375,350 L330,349.6 L285,348.7 L250,346.4 L199.4,339.7 L150,332 L124.2,325.6 L96.6,319.4 Z" fill="#c8c8c8" stroke="none"/>
<path d="M96.6,308.3 C100.25,309.8 111.37,314.68 118.5,317.3 C125.63,319.92 132.75,321.93 139.4,324 C146.05,326.07 150.8,327.9 158.4,329.7 C166,331.5 174.87,333.07 185,334.8 C195.13,336.53 207.8,338.42 219.2,340.1 C230.6,341.78 242.43,343.78 253.4,344.9 C264.37,346.02 272.23,346.33 285,346.8 C297.77,347.27 315,347.55 330,347.7 C345,347.85 356.67,348.13 375,347.7 C393.33,347.27 420.17,346.12 440,345.1 C459.83,344.08 485,342.18 494,341.6" fill="none" stroke="#3c3c3c" stroke-width="1.1"/>
<path d="M96.6,315.7 C97.2,315.77 98.95,316.18 101.4,316.3 C103.85,316.43 113.64,316.89 116.2,316.7 C118.76,316.51 120.19,316.1 121.9,314.8 C123.61,313.5 128.3,308.07 129.9,306.3 C131.5,304.53 133.56,301.64 134.7,300.6 C135.84,299.56 138.03,298.26 139,298 C139.97,297.74 141.35,297.82 142.5,298.5 C143.65,299.18 146.79,301.34 148.2,303.4 C149.61,305.46 152.53,311.99 153.8,315 C155.08,318.01 157.21,323.94 158.4,327.5 C159.59,331.06 161.74,340.43 163.3,343.5 C164.86,346.57 169.24,350.68 170.9,352.1 C172.56,353.53 174.94,354.6 176.6,354.9 C178.26,355.2 182.06,355.21 184.2,354.5 C186.34,353.79 191.34,350.29 193.7,349.2 C196.06,348.11 201.34,346.7 203.1,345.8 C204.86,344.9 206.12,342.88 207.8,342 C209.48,341.12 214.22,338.73 216.5,338.8 C218.78,338.88 223.62,341.3 226,342.6 C228.38,343.9 233.12,348.38 235.5,349.2 C237.88,350.02 243.19,349.44 245,349.2 C246.81,348.96 248.47,348.07 250,347.3 C251.53,346.53 254.62,344.18 257.2,343 C259.77,341.82 267.75,338.1 270.6,337.9 C273.45,337.7 277.88,340.41 280,341.4 C282.12,342.39 285.23,344.73 287.6,345.8 C289.98,346.88 296.39,348.69 299,350 C301.61,351.31 306.12,354.45 308.5,356.3 C310.88,358.15 315.74,362.9 318,364.8 C320.26,366.7 324.81,371.26 326.6,371.5 C328.39,371.74 330.76,369.2 332.3,366.7 C333.84,364.2 337.24,356.01 338.9,351.5 C340.56,346.99 344.18,334.4 345.6,330.6 C347.03,326.8 348.88,323.11 350.3,321.1 C351.73,319.09 355.32,314.74 357,314.5 C358.68,314.26 361.91,317.3 363.7,319.2 C365.49,321.1 369.41,327.6 371.3,329.7 C373.19,331.8 377.26,335.36 378.8,336 C380.34,336.64 382.41,335.59 383.6,334.8 C384.79,334.01 387.11,330.57 388.3,329.7 C389.49,328.82 391.79,327.45 393.1,327.8 C394.41,328.15 397.26,330.49 398.8,332.5 C400.34,334.51 403.62,340.92 405.4,343.9 C407.17,346.88 411.21,353.69 413,356.3 C414.79,358.91 418.04,363.74 419.7,364.8 C421.36,365.86 424.88,365.07 426.3,364.8 C427.73,364.53 429.68,362.98 431.1,362.6 C432.53,362.23 435.56,362 437.7,361.8 C439.84,361.6 446.06,361.57 448.2,361 C450.34,360.43 453.01,358.5 454.8,357.2 C456.59,355.9 460.6,352.61 462.5,350.6 C464.4,348.59 467.88,343.21 470,341.1 C472.12,338.99 477.36,335.2 479.5,333.7 C481.64,332.2 485.29,330.01 487.1,329.1 C488.91,328.19 493.14,326.74 494,326.4" fill="none" stroke="#000" stroke-width="1.8" stroke-linejoin="round"/>
<rect x="54.8" y="401.8" width="459.6" height="84.4" fill="none" stroke="#3a3a3a" stroke-width="1.3"/>
<line x1="76.5" y1="401.8" x2="76.5" y2="486.2" stroke="#555" stroke-width="1.2"/>
<line x1="51.2" y1="410.4" x2="54.8" y2="410.4" stroke="#444" stroke-width="1"/>
<text transform="translate(47.3,416.3) scale(0.87,1)" text-anchor="end" font-size="14" fill="#1a1a1a">20</text>
<line x1="51.2" y1="437" x2="54.8" y2="437" stroke="#444" stroke-width="1"/>
<text transform="translate(47.3,442.9) scale(0.87,1)" text-anchor="end" font-size="14" fill="#1a1a1a">15</text>
<line x1="51.2" y1="463.7" x2="54.8" y2="463.7" stroke="#444" stroke-width="1"/>
<text transform="translate(47.3,469.6) scale(0.87,1)" text-anchor="end" font-size="14" fill="#1a1a1a">10</text>
<text transform="translate(70.5,443.2) rotate(-90) scale(0.885,1)" text-anchor="middle" font-size="13" font-weight="bold" fill="#111">Rainfall (cm)</text>
<line x1="96.8" y1="486.2" x2="96.8" y2="488.7" stroke="#444" stroke-width="1"/>
<text transform="translate(96.8,504.7) scale(0.88,1)" text-anchor="middle" font-size="14" fill="#1a1a1a">2008</text>
<line x1="158.4" y1="486.2" x2="158.4" y2="488.7" stroke="#444" stroke-width="1"/>
<text transform="translate(158.4,504.7) scale(0.88,1)" text-anchor="middle" font-size="14" fill="#1a1a1a">2010</text>
<line x1="220" y1="486.2" x2="220" y2="488.7" stroke="#444" stroke-width="1"/>
<text transform="translate(220,504.7) scale(0.88,1)" text-anchor="middle" font-size="14" fill="#1a1a1a">2012</text>
<line x1="281.6" y1="486.2" x2="281.6" y2="488.7" stroke="#444" stroke-width="1"/>
<text transform="translate(281.6,504.7) scale(0.88,1)" text-anchor="middle" font-size="14" fill="#1a1a1a">2014</text>
<line x1="343.2" y1="486.2" x2="343.2" y2="488.7" stroke="#444" stroke-width="1"/>
<text transform="translate(343.2,504.7) scale(0.88,1)" text-anchor="middle" font-size="14" fill="#1a1a1a">2016</text>
<line x1="404.8" y1="486.2" x2="404.8" y2="488.7" stroke="#444" stroke-width="1"/>
<text transform="translate(404.8,504.7) scale(0.88,1)" text-anchor="middle" font-size="14" fill="#1a1a1a">2018</text>
<line x1="466.4" y1="486.2" x2="466.4" y2="488.7" stroke="#444" stroke-width="1"/>
<text transform="translate(466.4,504.7) scale(0.88,1)" text-anchor="middle" font-size="14" fill="#1a1a1a">2020</text>
<path d="M96.6,456.2 C112.17,455.35 158.6,453 190,451.1 C221.4,449.2 261.67,445.73 285,444.8 C308.33,443.87 314.17,444.93 330,445.5 C345.83,446.07 355.83,446.48 380,448.2 C404.17,449.92 456,454.65 475,455.8 C494,456.95 490.83,455.22 494,455.1 L494,466.5 L475,464.4 L380,454.9 L330,453.5 L285,453 L190,458.7 L96.6,467.2 Z" fill="#c8c8c8" stroke="none"/>
<path d="M96.6,462.5 C112.17,461.07 158.6,456.12 190,453.9 C221.4,451.68 261.67,449.93 285,449.2 C308.33,448.47 314.17,449.03 330,449.5 C345.83,449.97 361.67,450.75 380,452 C398.33,453.25 421,455.4 440,457 C459,458.6 485,460.83 494,461.6" fill="none" stroke="#3c3c3c" stroke-width="1.1"/>
<path d="M96.3,476.4 C97.41,475.75 102.9,472.5 105.2,471.2 C107.5,469.9 112.36,467.3 114.7,466 C117.04,464.7 122.25,461.53 123.9,460.8 C125.55,460.07 125.65,460.15 127.9,460.2 C130.15,460.25 139.4,461.4 141.9,461.2 C144.4,461 145.65,460.5 147.9,458.6 C150.15,456.7 157.16,448.73 159.9,446 C162.64,443.27 167.81,437.9 169.8,436.8 C171.79,435.7 173.3,436.7 175.8,437.2 C178.3,437.7 187.05,439.85 189.8,440.8 C192.55,441.75 195.8,443.62 197.8,444.8 C199.8,445.98 203.56,449.54 205.8,450.2 C208.04,450.86 213.21,450.78 215.7,450.1 C218.19,449.43 223.34,446.2 225.7,444.8 C228.06,443.4 232.82,439 234.6,438.9 C236.38,438.8 238.5,442.24 239.9,444 C241.3,445.76 244.08,451.25 245.8,453 C247.53,454.75 251.77,456.34 253.7,458 C255.62,459.66 259.69,463.91 261.2,466.3 C262.71,468.69 264.39,475.31 265.8,477.1 C267.21,478.89 270.71,479.95 272.5,480.6 C274.29,481.25 278.33,482.54 280.1,482.3 C281.88,482.06 284.57,481.1 286.7,478.7 C288.82,476.3 295.33,465.2 297.1,463.1 C298.88,461 299.47,461.57 300.9,461.9 C302.32,462.22 306.36,464.99 308.5,465.7 C310.64,466.41 316.1,467.84 318,467.6 C319.9,467.36 322.39,466.1 323.7,463.8 C325.01,461.5 327.31,452.34 328.5,449.2 C329.69,446.06 331.77,440.44 333.2,438.7 C334.62,436.96 338,435.73 339.9,435.3 C341.8,434.88 346.14,436.3 348.4,435.3 C350.66,434.3 355.61,430.55 358,427.3 C360.39,424.05 365.65,412.03 367.5,409.3 C369.35,406.57 371.86,405.86 372.8,405.5 C373.74,405.14 374.12,405.34 375,406.4 C375.88,407.46 378.73,411.62 379.8,414 C380.88,416.38 382.54,421.6 383.6,425.4 C384.66,429.2 387,440.36 388.3,444.4 C389.6,448.44 392.57,455.36 394,457.7 C395.43,460.04 397.32,462.19 399.7,463.1 C402.07,464.01 410.39,465 413,465 C415.61,465 418.46,464.29 420.6,463.1 C422.74,461.91 427.6,457.4 430.1,455.5 C432.6,453.6 438.46,448.85 440.6,447.9 C442.74,446.95 445.77,447.39 447.2,447.9 C448.62,448.41 450.56,450.3 452,452 C453.44,453.7 457.15,459.6 458.7,461.5 C460.25,463.4 462.55,466.2 464.4,467.2 C466.25,468.2 471.61,469.02 473.5,469.5 C475.39,469.98 477.99,470.9 479.5,471 C481.01,471.1 483.81,470.6 485.6,470.3 C487.39,470 492.78,468.81 493.8,468.6" fill="none" stroke="#0000ff" stroke-width="1.8" stroke-linejoin="round"/>
<text transform="translate(294.8,522.2) scale(0.86,1)" text-anchor="middle" font-size="15.5" font-weight="bold" fill="#111">Time</text>
<text transform="translate(27,387.5) rotate(-90) scale(0.928,1)" text-anchor="middle" font-size="15" font-weight="bold" fill="#111">Trend decomposition</text>
<rect x="55.4" y="546" width="459.6" height="85.4" fill="none" stroke="#3a3a3a" stroke-width="1.3"/>
<line x1="77.3" y1="546" x2="77.3" y2="631.4" stroke="#555" stroke-width="1.2"/>
<line x1="51.8" y1="561.9" x2="55.4" y2="561.9" stroke="#444" stroke-width="1"/>
<text transform="translate(46.9,567.8) scale(0.87,1)" text-anchor="end" font-size="14" fill="#1a1a1a">1</text>
<line x1="51.8" y1="585.8" x2="55.4" y2="585.8" stroke="#444" stroke-width="1"/>
<text transform="translate(46.9,591.7) scale(0.87,1)" text-anchor="end" font-size="14" fill="#1a1a1a">0</text>
<line x1="51.8" y1="609.5" x2="55.4" y2="609.5" stroke="#444" stroke-width="1"/>
<text transform="translate(46.9,615.4) scale(0.87,1)" text-anchor="end" font-size="14" fill="#1a1a1a">-1</text>
<text transform="translate(70.8,587.5) rotate(-90) scale(0.885,1)" text-anchor="middle" font-size="13" font-weight="bold" fill="#111">Elevation (m)</text>
<line x1="97.63" y1="631.4" x2="97.63" y2="633.9" stroke="#444" stroke-width="1"/>
<text transform="translate(97.63,649.9) scale(0.88,1)" text-anchor="middle" font-size="14" fill="#1a1a1a">2008</text>
<line x1="159.08" y1="631.4" x2="159.08" y2="633.9" stroke="#444" stroke-width="1"/>
<text transform="translate(159.08,649.9) scale(0.88,1)" text-anchor="middle" font-size="14" fill="#1a1a1a">2010</text>
<line x1="220.52" y1="631.4" x2="220.52" y2="633.9" stroke="#444" stroke-width="1"/>
<text transform="translate(220.52,649.9) scale(0.88,1)" text-anchor="middle" font-size="14" fill="#1a1a1a">2012</text>
<line x1="281.97" y1="631.4" x2="281.97" y2="633.9" stroke="#444" stroke-width="1"/>
<text transform="translate(281.97,649.9) scale(0.88,1)" text-anchor="middle" font-size="14" fill="#1a1a1a">2014</text>
<line x1="343.41" y1="631.4" x2="343.41" y2="633.9" stroke="#444" stroke-width="1"/>
<text transform="translate(343.41,649.9) scale(0.88,1)" text-anchor="middle" font-size="14" fill="#1a1a1a">2016</text>
<line x1="404.86" y1="631.4" x2="404.86" y2="633.9" stroke="#444" stroke-width="1"/>
<text transform="translate(404.86,649.9) scale(0.88,1)" text-anchor="middle" font-size="14" fill="#1a1a1a">2018</text>
<line x1="466.31" y1="631.4" x2="466.31" y2="633.9" stroke="#444" stroke-width="1"/>
<text transform="translate(466.31,649.9) scale(0.88,1)" text-anchor="middle" font-size="14" fill="#1a1a1a">2020</text>
<polyline points="97.13,583.55 99.69,596.1 102.25,592.34 104.81,577.51 107.37,576.37 109.93,581.27 112.49,583.55 115.05,584.35 117.61,585.49 120.17,588.91 122.73,584.35 125.29,582.41 127.85,626.56 130.41,598.38 132.97,578.31 135.53,565.87 138.09,565.87 140.65,571.23 143.21,576.03 145.77,578.08 148.34,580.13 150.9,582.07 153.46,578.31 156.02,616.29 158.58,577.28 161.14,592.34 163.7,568.38 166.26,572.6 168.82,602.03 171.38,600.89 173.94,596.9 176.5,592.34 179.06,589.71 181.62,587.77 184.18,571.23 186.74,576.03 189.3,596.1 191.86,581.73 194.42,560.4 196.98,602.03 199.54,599.75 202.1,586.98 204.66,585.15 207.22,584.69 209.78,585.49 212.34,582.41 214.9,580.59 217.46,572.15 220.02,581.73 222.58,583.78 225.14,571.23 227.7,593.14 230.26,595.19 232.82,588.57 235.38,589.71 237.94,587.77 240.5,586.98 243.06,588.12 245.62,576.37 248.18,588.91 250.75,584.35 253.31,574.88 255.87,603.17 258.43,584.69 260.99,581.73 263.55,582.64 266.11,584.35 268.67,585.15 271.23,586.06 273.79,581.73 276.35,583.55 278.91,580.93 281.47,572.6 284.03,573.74 286.59,602.03 289.15,596.9 291.71,585.83 294.27,588.12 296.83,586.98 299.39,585.49 301.95,584.35 304.51,580.93 307.07,570.66 309.63,568.38 312.19,596.9 314.75,579.79 317.31,595.76 319.87,589.49 322.43,589.71 324.99,590.63 327.55,585.83 330.11,587.77 332.67,587.2 335.23,591.54 337.79,597.7 340.35,598.38 342.91,597.7 345.47,586.98 348.03,575.57 350.59,560.74 353.15,564.96 355.72,572.15 358.28,576.37 360.84,577.17 363.4,578.31 365.96,570.09 368.52,610.93 371.08,611.73 373.64,600.32 376.2,578.99 378.76,574.88 381.32,597.7 383.88,579.79 386.44,580.13 389,583.78 391.56,584.35 394.12,585.15 396.68,587.2 399.24,579.79 401.8,567.58 404.36,549.33 406.92,593.48 409.48,601.12 412.04,596.9 414.6,597.7 417.16,600.66 419.72,587.43 422.28,585.15 424.84,583.55 427.4,584.69 429.96,588.34 432.52,575.57 435.08,581.27 437.64,578.31 440.2,589.26 442.76,589.26 445.32,587.77 447.88,585.83 450.44,588.12 453,589.26 455.57,588.12 458.13,590.4 460.69,593.48 463.25,581.73 465.81,565.3 468.37,590.63 470.93,596.1 473.49,582.41 476.05,578.31 478.61,578.31 481.17,582.64 483.73,584.35 486.29,587.43 488.85,590.63 491.41,592.34 493.97,585.83" fill="none" stroke="#111" stroke-width="0.85" stroke-linejoin="round"/>
<circle cx="97.13" cy="583.55" r="1.7" fill="#111"/>
<circle cx="99.69" cy="596.1" r="1.7" fill="#111"/>
<circle cx="102.25" cy="592.34" r="1.7" fill="#111"/>
<circle cx="104.81" cy="577.51" r="1.7" fill="#111"/>
<circle cx="107.37" cy="576.37" r="1.7" fill="#111"/>
<circle cx="109.93" cy="581.27" r="1.7" fill="#111"/>
<circle cx="112.49" cy="583.55" r="1.7" fill="#111"/>
<circle cx="115.05" cy="584.35" r="1.7" fill="#111"/>
<circle cx="117.61" cy="585.49" r="1.7" fill="#111"/>
<circle cx="120.17" cy="588.91" r="1.7" fill="#111"/>
<circle cx="122.73" cy="584.35" r="1.7" fill="#111"/>
<circle cx="125.29" cy="582.41" r="1.7" fill="#111"/>
<circle cx="127.85" cy="626.56" r="1.7" fill="#111"/>
<circle cx="130.41" cy="598.38" r="1.7" fill="#111"/>
<circle cx="132.97" cy="578.31" r="1.7" fill="#111"/>
<circle cx="135.53" cy="565.87" r="1.7" fill="#111"/>
<circle cx="138.09" cy="565.87" r="1.7" fill="#111"/>
<circle cx="140.65" cy="571.23" r="1.7" fill="#111"/>
<circle cx="143.21" cy="576.03" r="1.7" fill="#111"/>
<circle cx="145.77" cy="578.08" r="1.7" fill="#111"/>
<circle cx="148.34" cy="580.13" r="1.7" fill="#111"/>
<circle cx="150.9" cy="582.07" r="1.7" fill="#111"/>
<circle cx="153.46" cy="578.31" r="1.7" fill="#111"/>
<circle cx="156.02" cy="616.29" r="1.7" fill="#111"/>
<circle cx="158.58" cy="577.28" r="1.7" fill="#111"/>
<circle cx="161.14" cy="592.34" r="1.7" fill="#111"/>
<circle cx="163.7" cy="568.38" r="1.7" fill="#111"/>
<circle cx="166.26" cy="572.6" r="1.7" fill="#111"/>
<circle cx="168.82" cy="602.03" r="1.7" fill="#111"/>
<circle cx="171.38" cy="600.89" r="1.7" fill="#111"/>
<circle cx="173.94" cy="596.9" r="1.7" fill="#111"/>
<circle cx="176.5" cy="592.34" r="1.7" fill="#111"/>
<circle cx="179.06" cy="589.71" r="1.7" fill="#111"/>
<circle cx="181.62" cy="587.77" r="1.7" fill="#111"/>
<circle cx="184.18" cy="571.23" r="1.7" fill="#111"/>
<circle cx="186.74" cy="576.03" r="1.7" fill="#111"/>
<circle cx="189.3" cy="596.1" r="1.7" fill="#111"/>
<circle cx="191.86" cy="581.73" r="1.7" fill="#111"/>
<circle cx="194.42" cy="560.4" r="1.7" fill="#111"/>
<circle cx="196.98" cy="602.03" r="1.7" fill="#111"/>
<circle cx="199.54" cy="599.75" r="1.7" fill="#111"/>
<circle cx="202.1" cy="586.98" r="1.7" fill="#111"/>
<circle cx="204.66" cy="585.15" r="1.7" fill="#111"/>
<circle cx="207.22" cy="584.69" r="1.7" fill="#111"/>
<circle cx="209.78" cy="585.49" r="1.7" fill="#111"/>
<circle cx="212.34" cy="582.41" r="1.7" fill="#111"/>
<circle cx="214.9" cy="580.59" r="1.7" fill="#111"/>
<circle cx="217.46" cy="572.15" r="1.7" fill="#111"/>
<circle cx="220.02" cy="581.73" r="1.7" fill="#111"/>
<circle cx="222.58" cy="583.78" r="1.7" fill="#111"/>
<circle cx="225.14" cy="571.23" r="1.7" fill="#111"/>
<circle cx="227.7" cy="593.14" r="1.7" fill="#111"/>
<circle cx="230.26" cy="595.19" r="1.7" fill="#111"/>
<circle cx="232.82" cy="588.57" r="1.7" fill="#111"/>
<circle cx="235.38" cy="589.71" r="1.7" fill="#111"/>
<circle cx="237.94" cy="587.77" r="1.7" fill="#111"/>
<circle cx="240.5" cy="586.98" r="1.7" fill="#111"/>
<circle cx="243.06" cy="588.12" r="1.7" fill="#111"/>
<circle cx="245.62" cy="576.37" r="1.7" fill="#111"/>
<circle cx="248.18" cy="588.91" r="1.7" fill="#111"/>
<circle cx="250.75" cy="584.35" r="1.7" fill="#111"/>
<circle cx="253.31" cy="574.88" r="1.7" fill="#111"/>
<circle cx="255.87" cy="603.17" r="1.7" fill="#111"/>
<circle cx="258.43" cy="584.69" r="1.7" fill="#111"/>
<circle cx="260.99" cy="581.73" r="1.7" fill="#111"/>
<circle cx="263.55" cy="582.64" r="1.7" fill="#111"/>
<circle cx="266.11" cy="584.35" r="1.7" fill="#111"/>
<circle cx="268.67" cy="585.15" r="1.7" fill="#111"/>
<circle cx="271.23" cy="586.06" r="1.7" fill="#111"/>
<circle cx="273.79" cy="581.73" r="1.7" fill="#111"/>
<circle cx="276.35" cy="583.55" r="1.7" fill="#111"/>
<circle cx="278.91" cy="580.93" r="1.7" fill="#111"/>
<circle cx="281.47" cy="572.6" r="1.7" fill="#111"/>
<circle cx="284.03" cy="573.74" r="1.7" fill="#111"/>
<circle cx="286.59" cy="602.03" r="1.7" fill="#111"/>
<circle cx="289.15" cy="596.9" r="1.7" fill="#111"/>
<circle cx="291.71" cy="585.83" r="1.7" fill="#111"/>
<circle cx="294.27" cy="588.12" r="1.7" fill="#111"/>
<circle cx="296.83" cy="586.98" r="1.7" fill="#111"/>
<circle cx="299.39" cy="585.49" r="1.7" fill="#111"/>
<circle cx="301.95" cy="584.35" r="1.7" fill="#111"/>
<circle cx="304.51" cy="580.93" r="1.7" fill="#111"/>
<circle cx="307.07" cy="570.66" r="1.7" fill="#111"/>
<circle cx="309.63" cy="568.38" r="1.7" fill="#111"/>
<circle cx="312.19" cy="596.9" r="1.7" fill="#111"/>
<circle cx="314.75" cy="579.79" r="1.7" fill="#111"/>
<circle cx="317.31" cy="595.76" r="1.7" fill="#111"/>
<circle cx="319.87" cy="589.49" r="1.7" fill="#111"/>
<circle cx="322.43" cy="589.71" r="1.7" fill="#111"/>
<circle cx="324.99" cy="590.63" r="1.7" fill="#111"/>
<circle cx="327.55" cy="585.83" r="1.7" fill="#111"/>
<circle cx="330.11" cy="587.77" r="1.7" fill="#111"/>
<circle cx="332.67" cy="587.2" r="1.7" fill="#111"/>
<circle cx="335.23" cy="591.54" r="1.7" fill="#111"/>
<circle cx="337.79" cy="597.7" r="1.7" fill="#111"/>
<circle cx="340.35" cy="598.38" r="1.7" fill="#111"/>
<circle cx="342.91" cy="597.7" r="1.7" fill="#111"/>
<circle cx="345.47" cy="586.98" r="1.7" fill="#111"/>
<circle cx="348.03" cy="575.57" r="1.7" fill="#111"/>
<circle cx="350.59" cy="560.74" r="1.7" fill="#111"/>
<circle cx="353.15" cy="564.96" r="1.7" fill="#111"/>
<circle cx="355.72" cy="572.15" r="1.7" fill="#111"/>
<circle cx="358.28" cy="576.37" r="1.7" fill="#111"/>
<circle cx="360.84" cy="577.17" r="1.7" fill="#111"/>
<circle cx="363.4" cy="578.31" r="1.7" fill="#111"/>
<circle cx="365.96" cy="570.09" r="1.7" fill="#111"/>
<circle cx="368.52" cy="610.93" r="1.7" fill="#111"/>
<circle cx="371.08" cy="611.73" r="1.7" fill="#111"/>
<circle cx="373.64" cy="600.32" r="1.7" fill="#111"/>
<circle cx="376.2" cy="578.99" r="1.7" fill="#111"/>
<circle cx="378.76" cy="574.88" r="1.7" fill="#111"/>
<circle cx="381.32" cy="597.7" r="1.7" fill="#111"/>
<circle cx="383.88" cy="579.79" r="1.7" fill="#111"/>
<circle cx="386.44" cy="580.13" r="1.7" fill="#111"/>
<circle cx="389" cy="583.78" r="1.7" fill="#111"/>
<circle cx="391.56" cy="584.35" r="1.7" fill="#111"/>
<circle cx="394.12" cy="585.15" r="1.7" fill="#111"/>
<circle cx="396.68" cy="587.2" r="1.7" fill="#111"/>
<circle cx="399.24" cy="579.79" r="1.7" fill="#111"/>
<circle cx="401.8" cy="567.58" r="1.7" fill="#111"/>
<circle cx="404.36" cy="549.33" r="1.7" fill="#111"/>
<circle cx="406.92" cy="593.48" r="1.7" fill="#111"/>
<circle cx="409.48" cy="601.12" r="1.7" fill="#111"/>
<circle cx="412.04" cy="596.9" r="1.7" fill="#111"/>
<circle cx="414.6" cy="597.7" r="1.7" fill="#111"/>
<circle cx="417.16" cy="600.66" r="1.7" fill="#111"/>
<circle cx="419.72" cy="587.43" r="1.7" fill="#111"/>
<circle cx="422.28" cy="585.15" r="1.7" fill="#111"/>
<circle cx="424.84" cy="583.55" r="1.7" fill="#111"/>
<circle cx="427.4" cy="584.69" r="1.7" fill="#111"/>
<circle cx="429.96" cy="588.34" r="1.7" fill="#111"/>
<circle cx="432.52" cy="575.57" r="1.7" fill="#111"/>
<circle cx="435.08" cy="581.27" r="1.7" fill="#111"/>
<circle cx="437.64" cy="578.31" r="1.7" fill="#111"/>
<circle cx="440.2" cy="589.26" r="1.7" fill="#111"/>
<circle cx="442.76" cy="589.26" r="1.7" fill="#111"/>
<circle cx="445.32" cy="587.77" r="1.7" fill="#111"/>
<circle cx="447.88" cy="585.83" r="1.7" fill="#111"/>
<circle cx="450.44" cy="588.12" r="1.7" fill="#111"/>
<circle cx="453" cy="589.26" r="1.7" fill="#111"/>
<circle cx="455.57" cy="588.12" r="1.7" fill="#111"/>
<circle cx="458.13" cy="590.4" r="1.7" fill="#111"/>
<circle cx="460.69" cy="593.48" r="1.7" fill="#111"/>
<circle cx="463.25" cy="581.73" r="1.7" fill="#111"/>
<circle cx="465.81" cy="565.3" r="1.7" fill="#111"/>
<circle cx="468.37" cy="590.63" r="1.7" fill="#111"/>
<circle cx="470.93" cy="596.1" r="1.7" fill="#111"/>
<circle cx="473.49" cy="582.41" r="1.7" fill="#111"/>
<circle cx="476.05" cy="578.31" r="1.7" fill="#111"/>
<circle cx="478.61" cy="578.31" r="1.7" fill="#111"/>
<circle cx="481.17" cy="582.64" r="1.7" fill="#111"/>
<circle cx="483.73" cy="584.35" r="1.7" fill="#111"/>
<circle cx="486.29" cy="587.43" r="1.7" fill="#111"/>
<circle cx="488.85" cy="590.63" r="1.7" fill="#111"/>
<circle cx="491.41" cy="592.34" r="1.7" fill="#111"/>
<circle cx="493.97" cy="585.83" r="1.7" fill="#111"/>
<rect x="55.4" y="657.1" width="459.6" height="83.9" fill="none" stroke="#3a3a3a" stroke-width="1.3"/>
<line x1="77.3" y1="657.1" x2="77.3" y2="741" stroke="#555" stroke-width="1.2"/>
<line x1="51.8" y1="664.2" x2="55.4" y2="664.2" stroke="#444" stroke-width="1"/>
<text transform="translate(46.9,670.1) scale(0.87,1)" text-anchor="end" font-size="14" fill="#1a1a1a">30</text>
<line x1="51.8" y1="679.9" x2="55.4" y2="679.9" stroke="#444" stroke-width="1"/>
<text transform="translate(46.9,685.8) scale(0.87,1)" text-anchor="end" font-size="14" fill="#1a1a1a">20</text>
<line x1="51.8" y1="695.7" x2="55.4" y2="695.7" stroke="#444" stroke-width="1"/>
<text transform="translate(46.9,701.6) scale(0.87,1)" text-anchor="end" font-size="14" fill="#1a1a1a">10</text>
<line x1="51.8" y1="711.4" x2="55.4" y2="711.4" stroke="#444" stroke-width="1"/>
<text transform="translate(46.9,717.3) scale(0.87,1)" text-anchor="end" font-size="14" fill="#1a1a1a">0</text>
<line x1="51.8" y1="726.8" x2="55.4" y2="726.8" stroke="#444" stroke-width="1"/>
<text transform="translate(46.9,732.7) scale(0.87,1)" text-anchor="end" font-size="14" fill="#1a1a1a">-10</text>
<text transform="translate(70.8,698.7) rotate(-90) scale(0.885,1)" text-anchor="middle" font-size="13" font-weight="bold" fill="#111">Rainfall (cm)</text>
<line x1="97.63" y1="741" x2="97.63" y2="743.5" stroke="#444" stroke-width="1"/>
<text transform="translate(97.63,759.5) scale(0.88,1)" text-anchor="middle" font-size="14" fill="#1a1a1a">2008</text>
<line x1="159.08" y1="741" x2="159.08" y2="743.5" stroke="#444" stroke-width="1"/>
<text transform="translate(159.08,759.5) scale(0.88,1)" text-anchor="middle" font-size="14" fill="#1a1a1a">2010</text>
<line x1="220.52" y1="741" x2="220.52" y2="743.5" stroke="#444" stroke-width="1"/>
<text transform="translate(220.52,759.5) scale(0.88,1)" text-anchor="middle" font-size="14" fill="#1a1a1a">2012</text>
<line x1="281.97" y1="741" x2="281.97" y2="743.5" stroke="#444" stroke-width="1"/>
<text transform="translate(281.97,759.5) scale(0.88,1)" text-anchor="middle" font-size="14" fill="#1a1a1a">2014</text>
<line x1="343.41" y1="741" x2="343.41" y2="743.5" stroke="#444" stroke-width="1"/>
<text transform="translate(343.41,759.5) scale(0.88,1)" text-anchor="middle" font-size="14" fill="#1a1a1a">2016</text>
<line x1="404.86" y1="741" x2="404.86" y2="743.5" stroke="#444" stroke-width="1"/>
<text transform="translate(404.86,759.5) scale(0.88,1)" text-anchor="middle" font-size="14" fill="#1a1a1a">2018</text>
<line x1="466.31" y1="741" x2="466.31" y2="743.5" stroke="#444" stroke-width="1"/>
<text transform="translate(466.31,759.5) scale(0.88,1)" text-anchor="middle" font-size="14" fill="#1a1a1a">2020</text>
<polyline points="97.13,700.63 99.69,714.88 102.25,717.51 104.81,715.45 107.37,714.54 109.93,709.52 112.49,706.9 115.05,703.14 117.61,713.17 120.17,716.59 122.73,706.9 125.29,695.15 127.85,731.65 130.41,699.71 132.97,711.12 135.53,721.73 138.09,702.34 140.65,713.17 143.21,708.38 145.77,709.52 148.34,712.26 150.9,717.51 153.46,707.7 156.02,722.87 158.58,704.96 161.14,709.52 163.7,716.59 166.26,699.71 168.82,709.52 171.38,699.71 173.94,716.59 176.5,716.59 179.06,710.32 181.62,706.9 184.18,709.52 186.74,700.85 189.3,733.93 191.86,720.93 194.42,690.13 196.98,709.52 199.54,703.48 202.1,713.17 204.66,711.12 207.22,712.94 209.78,717.51 212.34,707.7 214.9,711.12 217.46,735.07 220.02,698.12 222.58,731.65 225.14,677.81 227.7,707.7 230.26,717.51 232.82,707.7 235.38,714.54 237.94,714.88 240.5,719.45 243.06,705.19 245.62,690.13 248.18,694.69 250.75,723.67 253.31,724.35 255.87,724.35 258.43,714.54 260.99,706.1 263.55,706.56 266.11,705.19 268.67,704.28 271.23,688.99 273.79,720.02 276.35,720.93 278.91,737.7 281.47,728 284.03,692.64 286.59,707.7 289.15,714.54 291.71,707.7 294.27,706.9 296.83,708.61 299.39,709.52 301.95,700.63 304.51,700.85 307.07,720.24 309.63,705.19 312.19,733.93 314.75,702.34 317.31,718.31 319.87,705.19 322.43,716.59 324.99,713.17 327.55,712.03 330.11,710.32 332.67,717.16 335.23,724.35 337.79,712.03 340.35,660.13 342.91,692.87 345.47,728 348.03,709.52 350.59,725.49 353.15,725.49 355.72,722.87 358.28,715.68 360.84,722.3 363.4,723.21 365.96,666.18 368.52,700.06 371.08,713.17 373.64,710.32 376.2,694.35 378.76,714.54 381.32,704.96 383.88,720.02 386.44,714.54 389,713.4 391.56,712.94 394.12,710.66 396.68,719.45 399.24,698.57 401.8,737.7 404.36,699.71 406.92,722.87 409.48,696.06 412.04,705.19 414.6,714.54 417.16,710.66 419.72,708.61 422.28,708.38 424.84,714.09 427.4,722.07 429.96,720.02 432.52,722.87 435.08,704.96 437.64,673.25 440.2,728 442.76,700.63 445.32,708.38 447.88,715.68 450.44,713.17 453,709.52 455.57,703.14 458.13,716.82 460.69,728.91 463.25,700.63 465.81,687.51 468.37,728 470.93,728.91 473.49,716.59 476.05,696.29 478.61,707.7 481.17,706.9 483.73,707.7 486.29,709.52 488.85,719.45 491.41,714.54 493.97,716.59" fill="none" stroke="#0000ff" stroke-width="0.85" stroke-linejoin="round"/>
<circle cx="97.13" cy="700.63" r="1.7" fill="#0000ff"/>
<circle cx="99.69" cy="714.88" r="1.7" fill="#0000ff"/>
<circle cx="102.25" cy="717.51" r="1.7" fill="#0000ff"/>
<circle cx="104.81" cy="715.45" r="1.7" fill="#0000ff"/>
<circle cx="107.37" cy="714.54" r="1.7" fill="#0000ff"/>
<circle cx="109.93" cy="709.52" r="1.7" fill="#0000ff"/>
<circle cx="112.49" cy="706.9" r="1.7" fill="#0000ff"/>
<circle cx="115.05" cy="703.14" r="1.7" fill="#0000ff"/>
<circle cx="117.61" cy="713.17" r="1.7" fill="#0000ff"/>
<circle cx="120.17" cy="716.59" r="1.7" fill="#0000ff"/>
<circle cx="122.73" cy="706.9" r="1.7" fill="#0000ff"/>
<circle cx="125.29" cy="695.15" r="1.7" fill="#0000ff"/>
<circle cx="127.85" cy="731.65" r="1.7" fill="#0000ff"/>
<circle cx="130.41" cy="699.71" r="1.7" fill="#0000ff"/>
<circle cx="132.97" cy="711.12" r="1.7" fill="#0000ff"/>
<circle cx="135.53" cy="721.73" r="1.7" fill="#0000ff"/>
<circle cx="138.09" cy="702.34" r="1.7" fill="#0000ff"/>
<circle cx="140.65" cy="713.17" r="1.7" fill="#0000ff"/>
<circle cx="143.21" cy="708.38" r="1.7" fill="#0000ff"/>
<circle cx="145.77" cy="709.52" r="1.7" fill="#0000ff"/>
<circle cx="148.34" cy="712.26" r="1.7" fill="#0000ff"/>
<circle cx="150.9" cy="717.51" r="1.7" fill="#0000ff"/>
<circle cx="153.46" cy="707.7" r="1.7" fill="#0000ff"/>
<circle cx="156.02" cy="722.87" r="1.7" fill="#0000ff"/>
<circle cx="158.58" cy="704.96" r="1.7" fill="#0000ff"/>
<circle cx="161.14" cy="709.52" r="1.7" fill="#0000ff"/>
<circle cx="163.7" cy="716.59" r="1.7" fill="#0000ff"/>
<circle cx="166.26" cy="699.71" r="1.7" fill="#0000ff"/>
<circle cx="168.82" cy="709.52" r="1.7" fill="#0000ff"/>
<circle cx="171.38" cy="699.71" r="1.7" fill="#0000ff"/>
<circle cx="173.94" cy="716.59" r="1.7" fill="#0000ff"/>
<circle cx="176.5" cy="716.59" r="1.7" fill="#0000ff"/>
<circle cx="179.06" cy="710.32" r="1.7" fill="#0000ff"/>
<circle cx="181.62" cy="706.9" r="1.7" fill="#0000ff"/>
<circle cx="184.18" cy="709.52" r="1.7" fill="#0000ff"/>
<circle cx="186.74" cy="700.85" r="1.7" fill="#0000ff"/>
<circle cx="189.3" cy="733.93" r="1.7" fill="#0000ff"/>
<circle cx="191.86" cy="720.93" r="1.7" fill="#0000ff"/>
<circle cx="194.42" cy="690.13" r="1.7" fill="#0000ff"/>
<circle cx="196.98" cy="709.52" r="1.7" fill="#0000ff"/>
<circle cx="199.54" cy="703.48" r="1.7" fill="#0000ff"/>
<circle cx="202.1" cy="713.17" r="1.7" fill="#0000ff"/>
<circle cx="204.66" cy="711.12" r="1.7" fill="#0000ff"/>
<circle cx="207.22" cy="712.94" r="1.7" fill="#0000ff"/>
<circle cx="209.78" cy="717.51" r="1.7" fill="#0000ff"/>
<circle cx="212.34" cy="707.7" r="1.7" fill="#0000ff"/>
<circle cx="214.9" cy="711.12" r="1.7" fill="#0000ff"/>
<circle cx="217.46" cy="735.07" r="1.7" fill="#0000ff"/>
<circle cx="220.02" cy="698.12" r="1.7" fill="#0000ff"/>
<circle cx="222.58" cy="731.65" r="1.7" fill="#0000ff"/>
<circle cx="225.14" cy="677.81" r="1.7" fill="#0000ff"/>
<circle cx="227.7" cy="707.7" r="1.7" fill="#0000ff"/>
<circle cx="230.26" cy="717.51" r="1.7" fill="#0000ff"/>
<circle cx="232.82" cy="707.7" r="1.7" fill="#0000ff"/>
<circle cx="235.38" cy="714.54" r="1.7" fill="#0000ff"/>
<circle cx="237.94" cy="714.88" r="1.7" fill="#0000ff"/>
<circle cx="240.5" cy="719.45" r="1.7" fill="#0000ff"/>
<circle cx="243.06" cy="705.19" r="1.7" fill="#0000ff"/>
<circle cx="245.62" cy="690.13" r="1.7" fill="#0000ff"/>
<circle cx="248.18" cy="694.69" r="1.7" fill="#0000ff"/>
<circle cx="250.75" cy="723.67" r="1.7" fill="#0000ff"/>
<circle cx="253.31" cy="724.35" r="1.7" fill="#0000ff"/>
<circle cx="255.87" cy="724.35" r="1.7" fill="#0000ff"/>
<circle cx="258.43" cy="714.54" r="1.7" fill="#0000ff"/>
<circle cx="260.99" cy="706.1" r="1.7" fill="#0000ff"/>
<circle cx="263.55" cy="706.56" r="1.7" fill="#0000ff"/>
<circle cx="266.11" cy="705.19" r="1.7" fill="#0000ff"/>
<circle cx="268.67" cy="704.28" r="1.7" fill="#0000ff"/>
<circle cx="271.23" cy="688.99" r="1.7" fill="#0000ff"/>
<circle cx="273.79" cy="720.02" r="1.7" fill="#0000ff"/>
<circle cx="276.35" cy="720.93" r="1.7" fill="#0000ff"/>
<circle cx="278.91" cy="737.7" r="1.7" fill="#0000ff"/>
<circle cx="281.47" cy="728" r="1.7" fill="#0000ff"/>
<circle cx="284.03" cy="692.64" r="1.7" fill="#0000ff"/>
<circle cx="286.59" cy="707.7" r="1.7" fill="#0000ff"/>
<circle cx="289.15" cy="714.54" r="1.7" fill="#0000ff"/>
<circle cx="291.71" cy="707.7" r="1.7" fill="#0000ff"/>
<circle cx="294.27" cy="706.9" r="1.7" fill="#0000ff"/>
<circle cx="296.83" cy="708.61" r="1.7" fill="#0000ff"/>
<circle cx="299.39" cy="709.52" r="1.7" fill="#0000ff"/>
<circle cx="301.95" cy="700.63" r="1.7" fill="#0000ff"/>
<circle cx="304.51" cy="700.85" r="1.7" fill="#0000ff"/>
<circle cx="307.07" cy="720.24" r="1.7" fill="#0000ff"/>
<circle cx="309.63" cy="705.19" r="1.7" fill="#0000ff"/>
<circle cx="312.19" cy="733.93" r="1.7" fill="#0000ff"/>
<circle cx="314.75" cy="702.34" r="1.7" fill="#0000ff"/>
<circle cx="317.31" cy="718.31" r="1.7" fill="#0000ff"/>
<circle cx="319.87" cy="705.19" r="1.7" fill="#0000ff"/>
<circle cx="322.43" cy="716.59" r="1.7" fill="#0000ff"/>
<circle cx="324.99" cy="713.17" r="1.7" fill="#0000ff"/>
<circle cx="327.55" cy="712.03" r="1.7" fill="#0000ff"/>
<circle cx="330.11" cy="710.32" r="1.7" fill="#0000ff"/>
<circle cx="332.67" cy="717.16" r="1.7" fill="#0000ff"/>
<circle cx="335.23" cy="724.35" r="1.7" fill="#0000ff"/>
<circle cx="337.79" cy="712.03" r="1.7" fill="#0000ff"/>
<circle cx="340.35" cy="660.13" r="1.7" fill="#0000ff"/>
<circle cx="342.91" cy="692.87" r="1.7" fill="#0000ff"/>
<circle cx="345.47" cy="728" r="1.7" fill="#0000ff"/>
<circle cx="348.03" cy="709.52" r="1.7" fill="#0000ff"/>
<circle cx="350.59" cy="725.49" r="1.7" fill="#0000ff"/>
<circle cx="353.15" cy="725.49" r="1.7" fill="#0000ff"/>
<circle cx="355.72" cy="722.87" r="1.7" fill="#0000ff"/>
<circle cx="358.28" cy="715.68" r="1.7" fill="#0000ff"/>
<circle cx="360.84" cy="722.3" r="1.7" fill="#0000ff"/>
<circle cx="363.4" cy="723.21" r="1.7" fill="#0000ff"/>
<circle cx="365.96" cy="666.18" r="1.7" fill="#0000ff"/>
<circle cx="368.52" cy="700.06" r="1.7" fill="#0000ff"/>
<circle cx="371.08" cy="713.17" r="1.7" fill="#0000ff"/>
<circle cx="373.64" cy="710.32" r="1.7" fill="#0000ff"/>
<circle cx="376.2" cy="694.35" r="1.7" fill="#0000ff"/>
<circle cx="378.76" cy="714.54" r="1.7" fill="#0000ff"/>
<circle cx="381.32" cy="704.96" r="1.7" fill="#0000ff"/>
<circle cx="383.88" cy="720.02" r="1.7" fill="#0000ff"/>
<circle cx="386.44" cy="714.54" r="1.7" fill="#0000ff"/>
<circle cx="389" cy="713.4" r="1.7" fill="#0000ff"/>
<circle cx="391.56" cy="712.94" r="1.7" fill="#0000ff"/>
<circle cx="394.12" cy="710.66" r="1.7" fill="#0000ff"/>
<circle cx="396.68" cy="719.45" r="1.7" fill="#0000ff"/>
<circle cx="399.24" cy="698.57" r="1.7" fill="#0000ff"/>
<circle cx="401.8" cy="737.7" r="1.7" fill="#0000ff"/>
<circle cx="404.36" cy="699.71" r="1.7" fill="#0000ff"/>
<circle cx="406.92" cy="722.87" r="1.7" fill="#0000ff"/>
<circle cx="409.48" cy="696.06" r="1.7" fill="#0000ff"/>
<circle cx="412.04" cy="705.19" r="1.7" fill="#0000ff"/>
<circle cx="414.6" cy="714.54" r="1.7" fill="#0000ff"/>
<circle cx="417.16" cy="710.66" r="1.7" fill="#0000ff"/>
<circle cx="419.72" cy="708.61" r="1.7" fill="#0000ff"/>
<circle cx="422.28" cy="708.38" r="1.7" fill="#0000ff"/>
<circle cx="424.84" cy="714.09" r="1.7" fill="#0000ff"/>
<circle cx="427.4" cy="722.07" r="1.7" fill="#0000ff"/>
<circle cx="429.96" cy="720.02" r="1.7" fill="#0000ff"/>
<circle cx="432.52" cy="722.87" r="1.7" fill="#0000ff"/>
<circle cx="435.08" cy="704.96" r="1.7" fill="#0000ff"/>
<circle cx="437.64" cy="673.25" r="1.7" fill="#0000ff"/>
<circle cx="440.2" cy="728" r="1.7" fill="#0000ff"/>
<circle cx="442.76" cy="700.63" r="1.7" fill="#0000ff"/>
<circle cx="445.32" cy="708.38" r="1.7" fill="#0000ff"/>
<circle cx="447.88" cy="715.68" r="1.7" fill="#0000ff"/>
<circle cx="450.44" cy="713.17" r="1.7" fill="#0000ff"/>
<circle cx="453" cy="709.52" r="1.7" fill="#0000ff"/>
<circle cx="455.57" cy="703.14" r="1.7" fill="#0000ff"/>
<circle cx="458.13" cy="716.82" r="1.7" fill="#0000ff"/>
<circle cx="460.69" cy="728.91" r="1.7" fill="#0000ff"/>
<circle cx="463.25" cy="700.63" r="1.7" fill="#0000ff"/>
<circle cx="465.81" cy="687.51" r="1.7" fill="#0000ff"/>
<circle cx="468.37" cy="728" r="1.7" fill="#0000ff"/>
<circle cx="470.93" cy="728.91" r="1.7" fill="#0000ff"/>
<circle cx="473.49" cy="716.59" r="1.7" fill="#0000ff"/>
<circle cx="476.05" cy="696.29" r="1.7" fill="#0000ff"/>
<circle cx="478.61" cy="707.7" r="1.7" fill="#0000ff"/>
<circle cx="481.17" cy="706.9" r="1.7" fill="#0000ff"/>
<circle cx="483.73" cy="707.7" r="1.7" fill="#0000ff"/>
<circle cx="486.29" cy="709.52" r="1.7" fill="#0000ff"/>
<circle cx="488.85" cy="719.45" r="1.7" fill="#0000ff"/>
<circle cx="491.41" cy="714.54" r="1.7" fill="#0000ff"/>
<circle cx="493.97" cy="716.59" r="1.7" fill="#0000ff"/>
<text transform="translate(295.0,777.9) scale(0.86,1)" text-anchor="middle" font-size="15.5" font-weight="bold" fill="#111">Time</text>
<text transform="translate(27,644) rotate(-90) scale(0.928,1)" text-anchor="middle" font-size="15" font-weight="bold" fill="#111">Remainder decomposition</text>
</svg>
</body></html>
